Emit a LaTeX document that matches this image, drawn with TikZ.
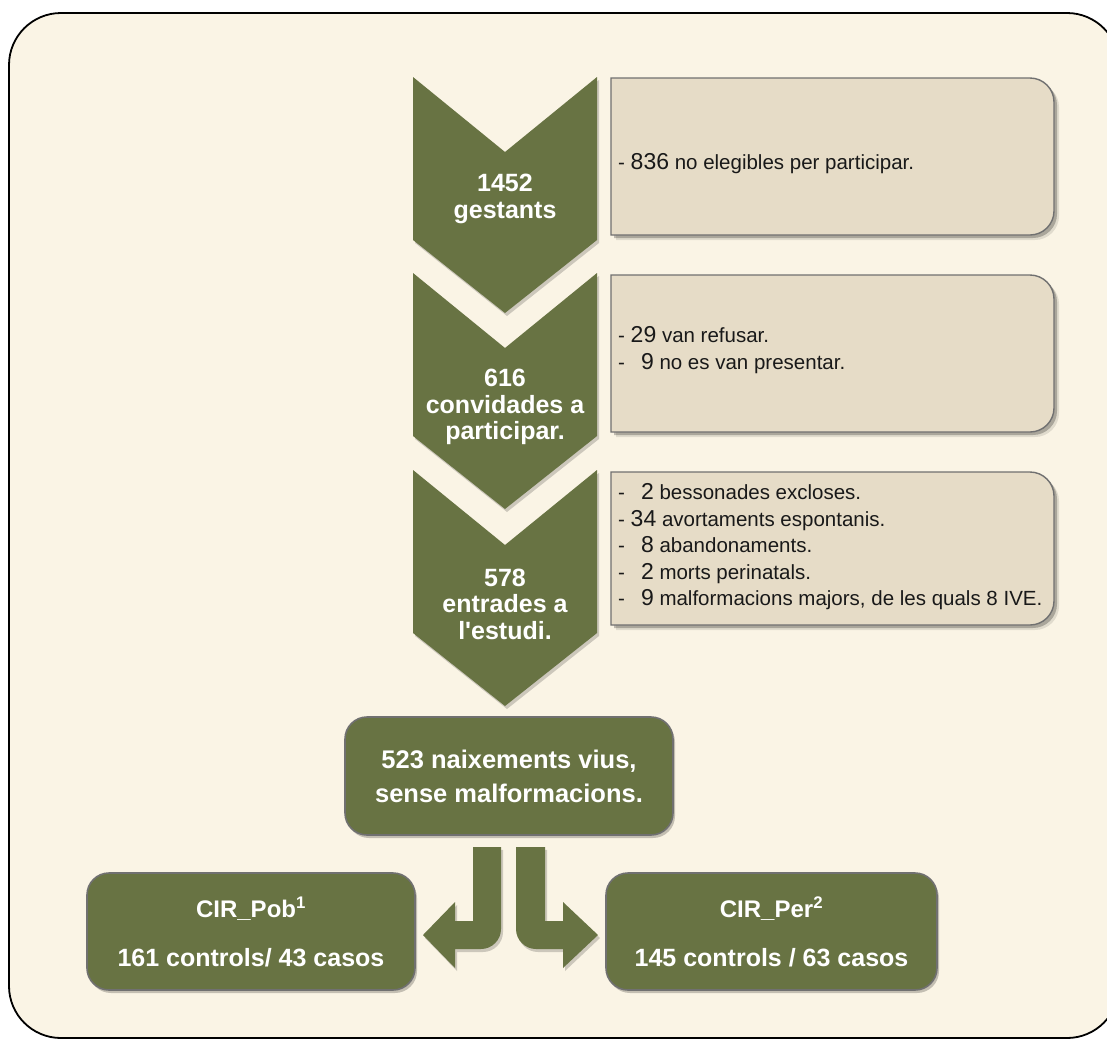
\documentclass[tikz,border=0pt]{standalone}
\usepackage{fontspec}
\setmainfont{Liberation Sans}
\usetikzlibrary{shadows}
\definecolor{cream}{RGB}{250,244,229}
\definecolor{olive}{RGB}{104,115,67}
\definecolor{beige}{RGB}{230,220,199}
\definecolor{edgegray}{RGB}{112,112,112}
\definecolor{txtdark}{RGB}{25,25,25}
\newcommand\num[1]{{\fontsize{23}{26.5}\selectfont #1}}
\tikzset{
  chevtxt/.style={text=white,font=\bfseries\fontsize{25}{26.5}\selectfont,align=center,inner sep=0pt},
  listtxt/.style={text=txtdark,font=\fontsize{20.5}{26.5}\selectfont,align=left,anchor=west,inner sep=0pt},
  beigebox/.style={fill=beige,draw=edgegray,line width=1.4pt},
  greenbox/.style={fill=olive,draw=edgegray,line width=1.6pt,rounded corners=22pt,
    text=white,align=center,inner sep=0pt,
    drop shadow={shadow xshift=2pt,shadow yshift=-3pt,opacity=.22,fill=black}},
  greenshade/.style={fill=black,opacity=.18},
}
\begin{document}
\begin{tikzpicture}[x=1pt,y=-1pt]
\useasboundingbox (0,0) rectangle (1107,1039);
\fill[white] (0,0) rectangle (1107,1039);
\begin{scope}
  \clip (0,0) rectangle (1107,1039);
  \draw[fill=cream,line width=1.8pt,rounded corners=52pt] (9,13) rectangle (1119,1038);
\end{scope}

% beige boxes with shadows
\foreach \a/\b in {78/235,275/432,472/625}{
  \foreach \d/\op in {5/0.10,3/0.24}{
    \fill[black,opacity=\op,shift={(\d,\d)}] (611,\a) -- (1030,\a)
      .. controls (1043.2,\a) and (1054,{\a+10.8}) .. (1054,{\a+24})
      -- (1054,{\b-24}) .. controls (1054,{\b-10.8}) and (1043.2,\b) .. (1030,\b)
      -- (611,\b) -- cycle;
  }
  \draw[beigebox] (611,\a) -- (1030,\a)
      .. controls (1043.2,\a) and (1054,{\a+10.8}) .. (1054,{\a+24})
      -- (1054,{\b-24}) .. controls (1054,{\b-10.8}) and (1043.2,\b) .. (1030,\b)
      -- (611,\b) -- cycle;
}

% chevrons
\foreach \t in {77,273,470}{
  \fill[greenshade,shift={(2,3)}] (413,\t) -- (505,{\t+75}) -- (597,\t) -- (597,{\t+163}) -- (505,{\t+236}) -- (413,{\t+163}) -- cycle;
  \fill[olive] (413,\t) -- (505,{\t+75}) -- (597,\t) -- (597,{\t+163}) -- (505,{\t+236}) -- (413,{\t+163}) -- cycle;
}
\node[chevtxt] (c1) at (505,199) {1452\\gestants};
\node[chevtxt] (c2) at (505,407) {616\\convidades a\\participar.};
\node[chevtxt] (c3) at (505,604) {578\\entrades a\\l\textquotesingle estudi.};

% list texts
\node[listtxt] (t1) at (618,164) {- \num{836} no elegibles per participar.};
\node[listtxt] (t2) at (618,350) {- \num{29} van refusar.\\-\hspace{16pt}\num{9} no es van presentar.};
\node[listtxt] (t3) at (618,547) {-\hspace{16pt}\num{2} bessonades excloses.\\- \num{34} avortaments espontanis.\\-\hspace{16pt}\num{8} abandonaments.\\-\hspace{16pt}\num{2} morts perinatals.\\-\hspace{16pt}\num{9} malformacions majors, de les quals 8 IVE.};

% result box
\node[greenbox,minimum width=328pt,minimum height=118pt,font=\bfseries\fontsize{25.5}{34}\selectfont] (n523) at (509,776) {523 naixements vius,\\sense malformacions.};

% bent arrows (shadow, then shape)
\coordinate (la) at (473,847);
\coordinate (ra) at (516,847);
\fill[greenshade,shift={(2,3)}] (la) -- (501,847) -- (501,929) .. controls (501,940) and (492,949) .. (481,949)
    -- (455,949) -- (455,968) -- (423,935) -- (455,902) -- (455,921) -- (473,921) -- cycle;
\fill[greenshade,shift={(2,3)}] (ra) -- (545,847) -- (545,921) -- (563,921) -- (563,902) -- (598,935) -- (563,968) -- (563,949)
    -- (536,949) .. controls (525,949) and (516,940) .. (516,929) -- cycle;
\fill[olive] (la) -- (501,847) -- (501,929) .. controls (501,940) and (492,949) .. (481,949)
    -- (455,949) -- (455,968) -- (423,935) -- (455,902) -- (455,921) -- (473,921) -- cycle;
\fill[olive] (ra) -- (545,847) -- (545,921) -- (563,921) -- (563,902) -- (598,935) -- (563,968) -- (563,949)
    -- (536,949) .. controls (525,949) and (516,940) .. (516,929) -- cycle;

% bottom boxes
\node[greenbox,minimum width=328pt,minimum height=117pt,font=\bfseries\fontsize{25}{49}\selectfont] (pob) at (251,931.5)
  {{\fontsize{24}{49}\selectfont CIR\_Pob\textsuperscript{1}}\\161 controls/ 43 casos};
\node[greenbox,minimum width=331pt,minimum height=117pt,font=\bfseries\fontsize{25}{49}\selectfont] (per) at (771.5,931.5)
  {{\fontsize{24}{49}\selectfont CIR\_Per\textsuperscript{2}}\\145 controls / 63 casos};
\end{tikzpicture}
\end{document}
